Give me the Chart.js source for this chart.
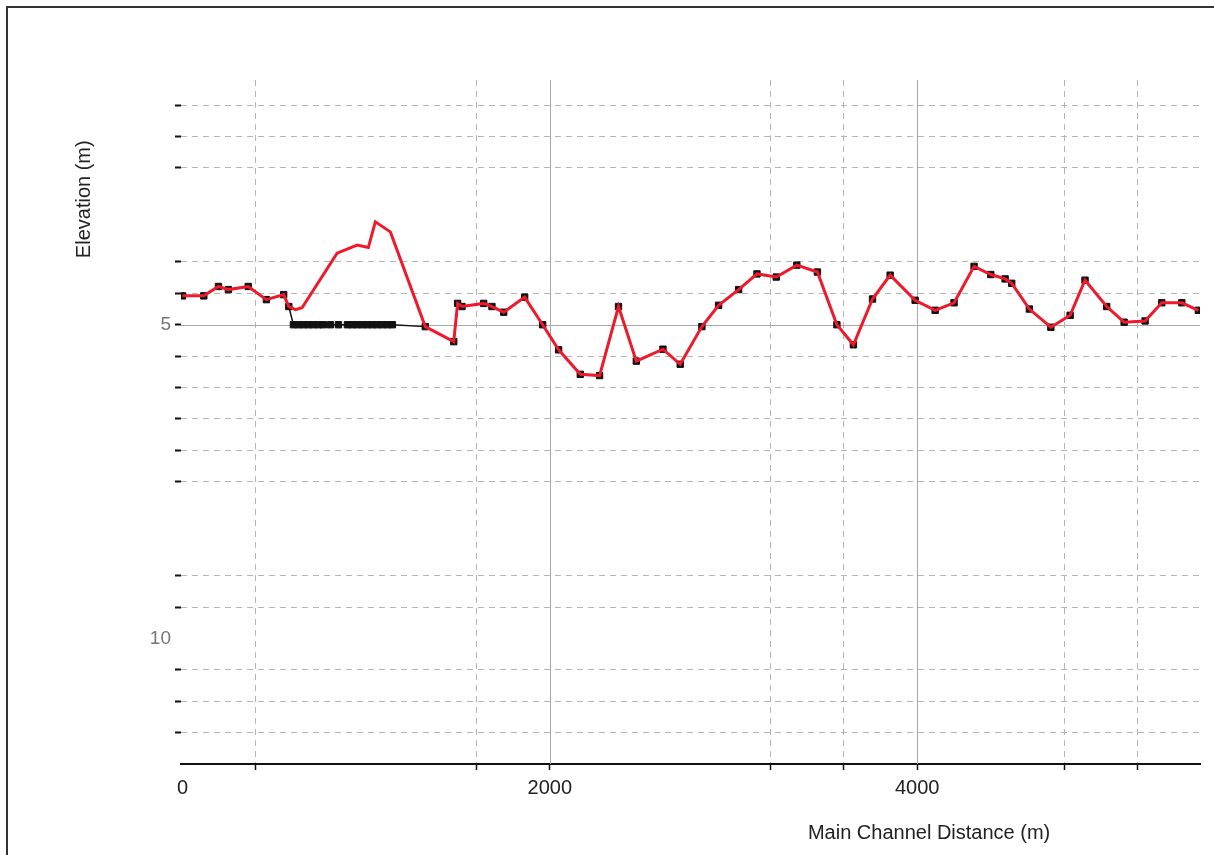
<!DOCTYPE html>
<html>
<head>
<meta charset="utf-8">
<script src="https://cdn.jsdelivr.net/npm/chart.js@4.4.0/dist/chart.umd.min.js"></script>
<style>
  html, body { margin: 0; padding: 0; background: #fff; }
  #wrap { position: relative; width: 1214px; height: 855px; }
  #frame { position: absolute; left: 6px; top: 6px; right: 0; bottom: 0; border-left: 2px solid #333; border-top: 2px solid #333; pointer-events: none; }
</style>
</head>
<body>
<div id="wrap"><canvas id="profileChart"></canvas><div id="frame"></div></div>
<script>
    // Perfil del cauce principal: superficie de agua (rojo) y terreno (negro)
    const waterDist = [0, 116, 196, 250, 358, 457, 551, 579, 615, 651, 842, 951, 1012, 1050, 1132, 1322,
        1477, 1498, 1522, 1640, 1685, 1749, 1863, 1961, 2048, 2166, 2271, 2374, 2471, 2616, 2710, 2828,
        2919, 3028, 3128, 3233, 3345, 3457, 3563, 3653, 3757, 3853, 3989, 4098, 4201, 4310, 4401, 4479,
        4515, 4611, 4728, 4833, 4914, 5032, 5127, 5241, 5332, 5441, 5531];
    const waterElev = [4.54, 4.54, 4.39, 4.44, 4.39, 4.60, 4.52, 4.71, 4.76, 4.73, 3.86, 3.73, 3.77, 3.36, 3.52, 5.03,
        5.27, 4.66, 4.71, 4.66, 4.71, 4.80, 4.56, 5.00, 5.40, 5.79, 5.81, 4.71, 5.58, 5.39, 5.63, 5.03,
        4.69, 4.44, 4.19, 4.24, 4.05, 4.16, 5.00, 5.32, 4.59, 4.21, 4.61, 4.77, 4.65, 4.07, 4.20, 4.27,
        4.34, 4.75, 5.04, 4.85, 4.29, 4.71, 4.96, 4.94, 4.65, 4.65, 4.77];

    const groundDist = [0, 116, 196, 250, 358, 457, 551, 579, 604, 631, 659, 686, 713, 740, 767, 805, 849,
        898, 925, 952, 980, 1007, 1034, 1061, 1088, 1116, 1143, 1322,
        1477, 1498, 1522, 1640, 1685, 1749, 1863, 1961, 2048, 2166, 2271, 2374, 2471, 2616, 2710, 2828,
        2919, 3028, 3128, 3233, 3345, 3457, 3563, 3653, 3757, 3853, 3989, 4098, 4201, 4310, 4401, 4479,
        4515, 4611, 4728, 4833, 4914, 5032, 5127, 5241, 5332, 5441, 5531];
    const groundElev = [4.54, 4.54, 4.39, 4.44, 4.39, 4.60, 4.52, 4.71, 5.00, 5.00, 5.00, 5.00, 5.00, 5.00, 5.00, 5.00, 5.00,
        5.00, 5.00, 5.00, 5.00, 5.00, 5.00, 5.00, 5.00, 5.00, 5.00, 5.03,
        5.27, 4.66, 4.71, 4.66, 4.71, 4.80, 4.56, 5.00, 5.40, 5.79, 5.81, 4.71, 5.58, 5.39, 5.63, 5.03,
        4.69, 4.44, 4.19, 4.24, 4.05, 4.16, 5.00, 5.32, 4.59, 4.21, 4.61, 4.77, 4.65, 4.07, 4.20, 4.27,
        4.34, 4.75, 5.04, 4.85, 4.29, 4.71, 4.96, 4.94, 4.65, 4.65, 4.77];

    // Marcas de ejes
    const xTickValues = [0, 400, 1600, 2000, 3200, 3600, 4000, 4800, 5200];
    const xTickLabels = [0, 2000, 4000];
    const yTickValues = [1.5, 2, 2.5, 4, 4.5, 5, 5.5, 6, 6.5, 7, 7.5, 9, 9.5, 10, 10.5, 11, 11.5];
    const yTickLabels = [5, 10];
    const xSolid = [2000, 4000];   // lineas continuas
    const ySolid = [5];
    const xHidden = [0];           // sin linea de rejilla
    const yHidden = [10];

    const FONT = '"Liberation Sans", Arial, sans-serif';

    const waterPts = waterDist.map((d, i) => ({ x: d, y: waterElev[i] }));
    const groundPts = groundDist.map((d, i) => ({ x: d, y: groundElev[i] }));

    const gridColor = (hidden, solid) => c => {
        const v = c.tick ? c.tick.value : null;
        if (hidden.includes(v) || solid.includes(v)) return 'rgba(0,0,0,0)';
        return '#b5b5b5';
    };
    const tickColor = hidden => c => {
        const v = c.tick ? c.tick.value : null;
        return hidden.includes(v) ? 'rgba(0,0,0,0)' : '#111';
    };

    // Lineas continuas y titulos de ejes
    const profileExtras = {
        id: 'profileExtras',
        beforeDatasetsDraw(chart) {
            const { ctx, chartArea: a, scales } = chart;
            ctx.save();
            ctx.strokeStyle = '#a8a8a8';
            ctx.lineWidth = 1;
            ctx.setLineDash([]);
            ySolid.forEach(v => {
                const py = Math.round(scales.y.getPixelForValue(v)) + 0.5;
                ctx.beginPath(); ctx.moveTo(a.left, py); ctx.lineTo(a.right, py); ctx.stroke();
            });
            xSolid.forEach(v => {
                const px = Math.round(scales.x.getPixelForValue(v)) + 0.5;
                ctx.beginPath(); ctx.moveTo(px, a.top); ctx.lineTo(px, a.bottom); ctx.stroke();
            });
            ctx.restore();
        },
        afterDraw(chart) {
            const { ctx, chartArea: a, scales } = chart;
            ctx.save();
            ctx.fillStyle = '#222';
            ctx.font = '20px ' + FONT;
            ctx.textAlign = 'center';
            ctx.textBaseline = 'middle';
            ctx.fillText('Main Channel Distance (m)', scales.x.getPixelForValue(4065), a.bottom + 69);
            ctx.translate(a.left - 97, scales.y.getPixelForValue(3.0));
            ctx.rotate(-Math.PI / 2);
            ctx.fillText('Elevation (m)', 0, 0);
            ctx.restore();
        }
    };

    const ctx = document.getElementById('profileChart').getContext('2d');
    const profileChart = new Chart(ctx, {
        type: 'scatter',
        data: {
            datasets: [{
                label: 'Water Surface',
                data: waterPts,
                showLine: true,
                borderColor: '#ee1a2c',
                borderWidth: 3,
                pointRadius: 0,
                tension: 0,
                order: 0
            },
            {
                label: 'Ground',
                data: groundPts,
                showLine: true,
                borderColor: '#111',
                borderWidth: 1.5,
                pointStyle: 'rect',
                pointRadius: 4.5,
                pointBackgroundColor: '#111',
                pointBorderColor: '#111',
                pointBorderWidth: 1,
                tension: 0,
                order: 1
            }]
        },
        options: {
            responsive: true,
            maintainAspectRatio: false,
            animation: false,
            layout: { padding: { left: 0, top: 80, right: 14, bottom: 0 } },
            plugins: {
                legend: { display: false },
                tooltip: {
                    callbacks: {
                        label: function(context) {
                            return `${context.dataset.label}: ${context.parsed.x} m, ${context.parsed.y} m`;
                        }
                    }
                }
            },
            scales: {
                x: {
                    type: 'linear',
                    min: -8,
                    max: 5540,
                    afterFit: s => { s.height = 91; },
                    afterBuildTicks: s => { s.ticks = xTickValues.map(v => ({ value: v })); },
                    grid: {
                        color: gridColor(xHidden, xSolid),
                        lineWidth: 1,
                        tickColor: tickColor(xHidden),
                        tickLength: 6,
                        tickWidth: 1.5,
                        tickBorderDash: []
                    },
                    border: { display: true, color: '#111', width: 2, dash: [6, 5] },
                    ticks: {
                        autoSkip: false,
                        maxRotation: 0,
                        padding: 6,
                        color: '#222',
                        font: { family: FONT, size: 20 },
                        callback: v => xTickLabels.includes(v) ? String(v) : ''
                    }
                },
                y: {
                    type: 'linear',
                    reverse: true,
                    min: 1.1,
                    max: 12,
                    afterFit: s => { s.width = 181; },
                    afterBuildTicks: s => { s.ticks = yTickValues.map(v => ({ value: v })); },
                    grid: {
                        color: gridColor(yHidden, ySolid),
                        lineWidth: 1,
                        tickColor: tickColor(yHidden),
                        tickLength: 6,
                        tickWidth: 2,
                        tickBorderDash: []
                    },
                    border: { display: false, dash: [6, 5] },
                    ticks: {
                        autoSkip: false,
                        padding: 4,
                        color: '#777',
                        font: { family: FONT, size: 19 },
                        callback: v => yTickLabels.includes(v) ? String(v) : ''
                    }
                }
            }
        },
        plugins: [profileExtras]
    });
</script>
</body>
</html>
